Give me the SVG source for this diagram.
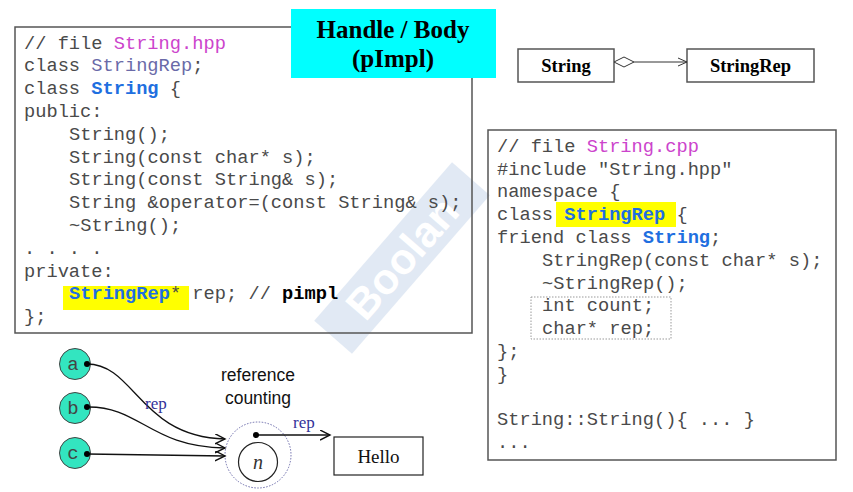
<svg xmlns="http://www.w3.org/2000/svg" width="853" height="492" viewBox="0 0 853 492">
<defs>
<style>
.code{font-family:"Liberation Mono","Courier New",monospace;font-size:18.7px;fill:#4a4a4a}
.mag{fill:#cc44cc}
.slate{fill:#6a6aa8}
.kw{fill:#1f6fe0;font-weight:bold}
.bk{fill:#000;font-weight:bold}
.box{fill:none;stroke:#555;stroke-width:1.5}
.hl{fill:#ffff00}
.uml{font-family:"Liberation Serif","Times New Roman",serif;font-weight:bold;font-size:18.5px;fill:#000;text-anchor:middle}
.lbl{font-family:"Liberation Serif","Times New Roman",serif;font-size:17px;fill:#333399}
.ball{fill:#33e5c0;stroke:#444;stroke-width:1}
.balltxt{font-family:"Liberation Mono","Courier New",monospace;font-size:19px;fill:#444;text-anchor:middle}
.conn{fill:none;stroke:#111;stroke-width:1.3}
</style>
<marker id="arr" markerWidth="12" markerHeight="12" refX="10" refY="5" orient="auto" markerUnits="userSpaceOnUse">
<path d="M0,0 L10,5 L0,10" fill="none" stroke="#111" stroke-width="1.4"/>
</marker>
<marker id="arrS" markerWidth="12" markerHeight="12" refX="10" refY="5" orient="auto" markerUnits="userSpaceOnUse">
<path d="M1,1 L10,5 L1,9" fill="none" stroke="#333" stroke-width="1"/>
</marker>
</defs>
<rect width="853" height="492" fill="#fff"/>

<g id="watermark" opacity="0.55">
<g transform="translate(402,258) rotate(-49)">
<rect x="-105" y="-25" width="210" height="50" fill="#c9d8ec"/>
<text x="0" y="15" font-family="Liberation Sans,Arial,sans-serif" font-weight="bold" font-size="43" text-anchor="middle" fill="#fff">Boolan</text>
</g>
</g>

<g id="hpp">
<rect class="box" x="15" y="27" width="457" height="306"/>
<rect class="hl" x="63" y="286" width="126" height="24"/>
<text class="code" x="24" y="48.5">// file <tspan class="mag">String.hpp</tspan></text>
<text class="code" x="24" y="71.3">class <tspan class="slate">StringRep</tspan>;</text>
<text class="code" x="24" y="94.1">class <tspan class="kw">String</tspan> {</text>
<text class="code" x="24" y="116.9">public:</text>
<text class="code" x="69" y="139.7">String();</text>
<text class="code" x="69" y="162.5">String(const char* s);</text>
<text class="code" x="69" y="185.3">String(const String&amp; s);</text>
<text class="code" x="69" y="208.1">String &amp;operator=(const String&amp; s);</text>
<text class="code" x="69" y="230.9">~String();</text>
<text class="code" x="24" y="253.7">. . . .</text>
<text class="code" x="24" y="276.5">private:</text>
<text class="code" x="69" y="299.3"><tspan class="kw">StringRep</tspan>* rep; // <tspan class="bk">pimpl</tspan></text>
<text class="code" x="24" y="322.1">};</text>
</g>

<g id="title">
<rect x="291" y="9" width="205" height="69" fill="#00ffff"/>
<text x="393" y="38" font-family="Liberation Serif,'Times New Roman',serif" font-weight="bold" font-size="25" text-anchor="middle" fill="#000">Handle / Body</text>
<text x="393" y="67" font-family="Liberation Serif,'Times New Roman',serif" font-weight="bold" font-size="25" text-anchor="middle" fill="#000">(pImpl)</text>
</g>

<g id="uml-string">
<rect class="box" x="518" y="49" width="96" height="33"/>
<text class="uml" x="566" y="72">String</text>
</g>
<g id="uml-stringrep">
<rect class="box" x="687" y="49" width="127" height="33"/>
<text class="uml" x="750.5" y="72">StringRep</text>
</g>

<g id="cpp">
<rect class="box" x="488" y="130" width="348" height="330"/>
<rect class="hl" x="556" y="202" width="120" height="25"/>
<rect x="531" y="297" width="140" height="42" fill="none" stroke="#999" stroke-width="1" stroke-dasharray="1.5,1.5"/>
<text class="code" x="497" y="151.7">// file <tspan class="mag">String.cpp</tspan></text>
<text class="code" x="497" y="174.5">#include "String.hpp"</text>
<text class="code" x="497" y="197.3">namespace {</text>
<text class="code" x="497" y="220.1">class <tspan class="kw">StringRep</tspan> {</text>
<text class="code" x="497" y="242.9">friend class <tspan class="kw">String</tspan>;</text>
<text class="code" x="542" y="265.7">StringRep(const char* s);</text>
<text class="code" x="542" y="288.5">~StringRep();</text>
<text class="code" x="542" y="311.3">int count;</text>
<text class="code" x="542" y="334.1">char* rep;</text>
<text class="code" x="497" y="356.9">};</text>
<text class="code" x="497" y="379.7">}</text>
<text class="code" x="497" y="425.3">String::String(){ ... }</text>
<text class="code" x="497" y="448.1">...</text>
</g>

<g id="ball-a">
<circle class="ball" cx="75" cy="364" r="15.5"/>
<text class="balltxt" x="73" y="370">a</text>
</g>
<g id="ball-b">
<circle class="ball" cx="75" cy="408" r="15.5"/>
<text class="balltxt" x="73" y="414">b</text>
</g>
<g id="ball-c">
<circle class="ball" cx="75" cy="453" r="15.5"/>
<text class="balltxt" x="73" y="459">c</text>
</g>

<g id="refcount">
<circle cx="258" cy="455" r="33" fill="none" stroke="#6a6aaa" stroke-width="1" stroke-dasharray="1.5,1.5"/>
<circle cx="258" cy="462" r="19.5" fill="#fff" stroke="#222" stroke-width="1.2"/>
<text x="258" y="469" font-family="Liberation Serif,'Times New Roman',serif" font-style="italic" font-size="20" text-anchor="middle" fill="#333">n</text>
<text x="258" y="381" font-family="Liberation Sans,Arial,sans-serif" font-size="17.5" text-anchor="middle" fill="#111">reference</text>
<text x="258" y="404" font-family="Liberation Sans,Arial,sans-serif" font-size="17.5" text-anchor="middle" fill="#111">counting</text>
</g>

<g id="hello">
<rect x="334" y="437" width="89" height="38" fill="#fff" stroke="#222" stroke-width="1.2"/>
<text x="378.5" y="463" font-family="Liberation Serif,'Times New Roman',serif" font-size="19" text-anchor="middle" fill="#111">Hello</text>
</g>

<g id="connectors">
<path d="M614,62 L624,57 L634,62 L624,67 Z" fill="#fff" stroke="#333" stroke-width="1"/>
<line x1="634" y1="62" x2="687" y2="62" stroke="#333" stroke-width="1" marker-end="url(#arrS)"/>
<path class="conn" d="M87,364 C135,364 140,437 225,439" marker-end="url(#arr)"/>
<path class="conn" d="M87,407 C140,406 150,447 225,448" marker-end="url(#arr)"/>
<path class="conn" d="M87,454 L225,456" marker-end="url(#arr)"/>
<line class="conn" x1="256" y1="435" x2="330" y2="435" marker-end="url(#arr)"/>
<circle cx="87" cy="364" r="3" fill="#000"/>
<circle cx="87" cy="407" r="3" fill="#000"/>
<circle cx="87" cy="454" r="3" fill="#000"/>
<circle cx="256" cy="435" r="3" fill="#000"/>
<text class="lbl" x="145" y="409">rep</text>
<text class="lbl" x="293" y="428">rep</text>
</g>
</svg>
